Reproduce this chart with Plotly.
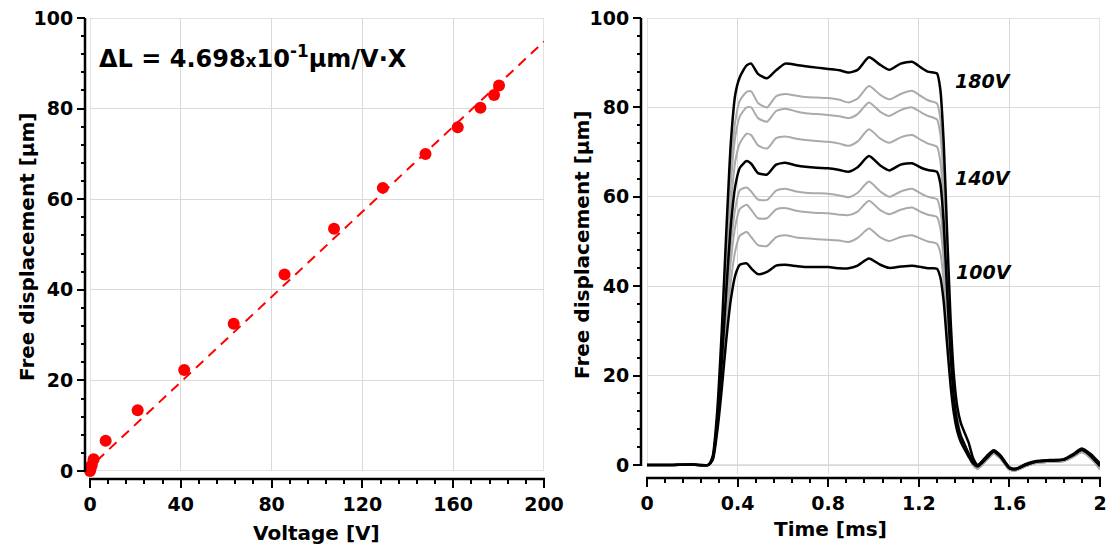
import plotly.graph_objects as go

# ---------------- Left panel data ----------------
voltage = [0, 0.3, 0.8, 1.6, 6.9, 21.0, 41.5, 63.3, 85.7, 107.5, 129.0, 147.8, 162.0, 172.0, 178.0, 180.2]
displacement = [0.0, 0.6, 1.3, 2.6, 6.7, 13.4, 22.3, 32.5, 43.4, 53.5, 62.5, 70.0, 75.9, 80.2, 83.0, 85.1]
fit_slope = 0.4698
fit_intercept = 0.85
fit_x = [3, 200]

# ---------------- Right panel data ----------------
time_ms = [0, 0.10, 0.20, 0.27, 0.29, 0.31, 0.33, 0.35, 0.37, 0.39, 0.41, 0.44, 0.46, 0.49, 0.53,
           0.57, 0.61, 0.66, 0.70, 0.75, 0.80, 0.85, 0.89, 0.93, 0.98, 1.03, 1.07, 1.12, 1.17, 1.21,
           1.24, 1.28, 1.295, 1.31, 1.325, 1.34, 1.355, 1.37, 1.385, 1.40, 1.42, 1.44, 1.46, 1.50,
           1.53, 1.56, 1.60, 1.63, 1.67, 1.72, 1.78, 1.84, 1.88, 1.92, 1.96, 2.00]

v100 = [0, 0, 0.1, 0, 1.1, 7.5, 17, 28, 37, 42.5, 44.8, 45.1, 44.0, 42.7, 43.2,
        44.6, 44.8, 44.5, 44.3, 44.3, 44.3, 44.0, 44.0, 44.6, 46.2, 44.8, 44.1, 44.4, 44.6, 44.3,
        44.0, 43.9, 42, 36.5, 27, 18, 11.5, 7.5, 5.2, 3.7, 1.9, 0.3, -0.3, 1.6,
        3.0, 1.9, -0.7, -0.9, 0, 0.8, 1.0, 1.2, 2.2, 3.4, 2.0, -0.2]
v110 = [0, 0, 0.1, 0, 1.2, 8, 18.5, 30.5, 41, 48, 51.3, 52.1, 51.0, 49.2, 49.0,
        51.0, 51.4, 50.9, 50.7, 50.5, 50.4, 50.2, 49.9, 50.8, 52.9, 50.9, 50.1, 51.0, 51.4, 50.6,
        50.0, 49.5, 47.5, 41, 30, 19.5, 12.3, 7.8, 5.4, 3.8, 1.8, 0, -0.8, 1.2,
        2.6, 1.5, -1, -1.2, -0.3, 0.5, 0.7, 0.9, 1.8, 2.9, 1.5, -0.9]
v120 = [0, 0, 0.1, 0, 1.3, 8.5, 20, 33.5, 45.5, 53.5, 57.3, 58.2, 57.1, 55.2, 55.2,
        57.2, 57.5, 56.9, 56.6, 56.4, 56.3, 56.0, 55.9, 56.7, 59.1, 57.0, 56.1, 57.1, 57.6, 56.6,
        56.0, 55.5, 53, 45.5, 33, 21.5, 13.3, 8.4, 5.8, 4.0, 1.9, 0, -0.8, 1.2,
        2.6, 1.5, -1, -1.2, -0.3, 0.5, 0.7, 0.9, 1.8, 2.9, 1.5, -0.9]
v130 = [0, 0, 0.1, 0, 1.4, 9, 21, 36, 49, 57.5, 61.5, 62.1, 61.2, 59.4, 59.3,
        61.4, 61.8, 61.2, 60.9, 60.8, 60.7, 60.3, 59.9, 60.9, 63.4, 61.2, 60.0, 61.2, 61.8, 60.7,
        60.0, 59.5, 57, 49, 35.5, 23, 14, 8.8, 6.0, 4.2, 2.0, 0, -0.8, 1.2,
        2.6, 1.5, -1, -1.2, -0.3, 0.5, 0.7, 0.9, 1.8, 2.9, 1.5, -0.9]
v140 = [0, 0, 0.1, 0, 1.5, 9.5, 23, 39, 53.5, 62.5, 66.5, 68.0, 67.4, 65.3, 65.0,
        67.2, 67.6, 67.0, 66.7, 66.5, 66.4, 66.0, 65.6, 66.6, 69.1, 67.0, 65.9, 67.2, 67.5, 66.5,
        66.0, 65.6, 63, 54, 39, 25, 15, 9.5, 6.5, 4.8, 2.6, 0.6, -0.3, 1.6,
        3.0, 1.9, -0.7, -0.9, 0, 0.8, 1.0, 1.2, 2.2, 3.4, 2.0, -0.2]
v150 = [0, 0, 0.1, 0, 1.6, 10, 24.5, 42, 58, 68, 72, 74.1, 73.8, 71.5, 70.8,
        73.1, 73.5, 73.0, 72.7, 72.5, 72.3, 71.9, 71.4, 72.4, 75.1, 73.0, 72.1, 73.3, 73.8, 72.7,
        71.9, 71.2, 68, 58, 41.5, 26, 15.5, 9.5, 6.5, 4.5, 2.2, 0, -0.8, 1.2,
        2.6, 1.5, -1, -1.2, -0.3, 0.5, 0.7, 0.9, 1.8, 2.9, 1.5, -0.9]
v160 = [0, 0, 0.1, 0, 1.7, 10.5, 26.5, 46, 63, 73.5, 78, 80.0, 80.0, 77.6, 76.8,
        79.2, 79.7, 79.1, 78.7, 78.5, 78.3, 78.0, 77.6, 78.5, 81.1, 79.0, 78.1, 79.4, 80.0, 78.9,
        78.1, 77.3, 74, 63, 45, 28, 16.5, 10, 6.8, 4.8, 2.3, 0, -0.8, 1.2,
        2.6, 1.5, -1, -1.2, -0.3, 0.5, 0.7, 0.9, 1.8, 2.9, 1.5, -0.9]
v170 = [0, 0, 0.1, 0, 1.8, 11, 28, 48, 66, 77, 81.5, 83.5, 83.6, 81.0, 80.0,
        82.5, 83.0, 82.6, 82.3, 82.2, 82.1, 81.7, 81.1, 82.0, 84.8, 82.8, 81.8, 83.0, 83.7, 82.5,
        81.6, 80.9, 77.5, 66, 47, 29, 17, 10.5, 7.0, 5.0, 2.5, 0, -0.8, 1.2,
        2.7, 1.6, -1, -1.2, -0.3, 0.5, 0.7, 0.9, 1.8, 3.0, 1.6, -0.8]
v180 = [0, 0, 0.1, 0, 2, 12, 30, 52, 72, 83, 86.8, 89.4, 89.8, 87.5, 86.5,
        88.3, 89.8, 89.5, 89.2, 88.9, 88.6, 88.3, 87.8, 88.4, 91.2, 89.5, 88.4, 89.8, 90.2, 88.9,
        88.0, 87.6, 84, 72, 52, 33, 20, 13, 9.5, 7.5, 5.0, 1.5, 0, 2.0,
        3.3, 2.2, -0.5, -0.8, 0.2, 0.9, 1.1, 1.3, 2.4, 3.7, 2.4, 0.3]

gray_series = [v110, v120, v130, v150, v160, v170]
black_series = [v100, v140, v180]
curve_labels = ["180V", "140V", "100V"]
label_pos_t = [1.485, 1.485, 1.49]
label_pos_v = [86.0, 64.3, 43.2]

FONT = "DejaVu Sans"
GRID = "#d9d9d9"
W, H = 1113, 553


def px_x(p):
    return p / W


def px_y(p):
    return 1 - p / H


fig = go.Figure()

# Left: fit line and measured points
fit_y = [fit_slope * x + fit_intercept for x in fit_x]
fig.add_trace(go.Scatter(x=fit_x, y=fit_y, mode="lines",
                         line=dict(color="#ff0000", width=2, dash="10px,7px"),
                         xaxis="x", yaxis="y", showlegend=False, hoverinfo="skip"))
fig.add_trace(go.Scatter(x=voltage, y=displacement, mode="markers",
                         marker=dict(color="#ff0000", size=12),
                         xaxis="x", yaxis="y", showlegend=False, cliponaxis=False))

# Right: time traces
for s in gray_series:
    fig.add_trace(go.Scatter(x=time_ms, y=s, mode="lines",
                             line=dict(color="#aaaaaa", width=2, shape="spline", smoothing=0.6),
                             xaxis="x2", yaxis="y2", showlegend=False))
for s in black_series:
    fig.add_trace(go.Scatter(x=time_ms, y=s, mode="lines",
                             line=dict(color="#000000", width=2.5, shape="spline", smoothing=0.6),
                             xaxis="x2", yaxis="y2", showlegend=False))

tickfont = dict(family=FONT, size=19, color="black", weight="bold")
common_axis = dict(showline=False, ticks="outside",
                   ticklen=8, tickwidth=2, tickcolor="black", showgrid=True,
                   gridcolor=GRID, gridwidth=1, zeroline=False, tickfont=tickfont,
                   automargin=False)


def minor(d):
    return dict(dtick=d, tick0=0, ticks="outside", ticklen=4, tickwidth=1.5,
                tickcolor="black", showgrid=False)


# right panel: 0 at px 465, 100 at px 18; range extends a little below zero
r_ymin = -2.0
r_bottom_px = 465 + (0 - r_ymin) * (465 - 18) / 100.0

fig.update_layout(
    width=W, height=H,
    margin=dict(l=0, r=0, t=0, b=0),
    paper_bgcolor="white", plot_bgcolor="white",
    xaxis=dict(domain=[px_x(90), px_x(544)], range=[0, 200], tickvals=[0, 40, 80, 120, 160, 200],
               anchor="free", position=px_y(479), minor=minor(8), **common_axis),
    yaxis=dict(domain=[px_y(471), px_y(18)], range=[0, 100], tickvals=[0, 20, 40, 60, 80, 100],
               anchor="free", position=px_x(85), minor=minor(4), **common_axis),
    xaxis2=dict(domain=[px_x(647), px_x(1100)], range=[0, 2], tickvals=[0, 0.4, 0.8, 1.2, 1.6, 2],
                ticktext=["0", "0.4", "0.8", "1.2", "1.6", "2"],
                anchor="free", position=px_y(478), minor=minor(0.08), **common_axis),
    yaxis2=dict(domain=[px_y(r_bottom_px), px_y(18)], range=[r_ymin, 100],
                tickvals=[0, 20, 40, 60, 80, 100],
                anchor="free", position=px_x(641), minor=minor(4), **common_axis),
)

# Plot-area frames (light gray)
fig.add_shape(type="rect", xref="x", yref="y", x0=0, x1=200, y0=0, y1=100,
              line=dict(color=GRID, width=1.5), layer="below")
fig.add_shape(type="rect", xref="x2", yref="y2", x0=0, x1=2, y0=0, y1=100,
              line=dict(color=GRID, width=1.5), layer="below")

# Black axis lines (offset from the plot areas)
axis_line = dict(color="black", width=2.5)
fig.add_shape(type="line", xref="paper", yref="paper", x0=px_x(85), x1=px_x(85),
              y0=px_y(472), y1=px_y(18), line=axis_line)
fig.add_shape(type="line", xref="paper", yref="paper", x0=px_x(89), x1=px_x(545),
              y0=px_y(479), y1=px_y(479), line=axis_line)
fig.add_shape(type="line", xref="paper", yref="paper", x0=px_x(641), x1=px_x(641),
              y0=px_y(466), y1=px_y(18), line=axis_line)
fig.add_shape(type="line", xref="paper", yref="paper", x0=px_x(646), x1=px_x(1101),
              y0=px_y(478), y1=px_y(478), line=axis_line)

title_font = dict(family=FONT, size=20, color="black", weight="bold")
annotations = [
    dict(text="Free displacement [µm]", x=px_x(27), y=px_y(247), xref="paper", yref="paper",
         textangle=-90, showarrow=False, font=title_font, xanchor="center", yanchor="middle"),
    dict(text="Free displacement [µm]", x=px_x(582), y=px_y(245), xref="paper", yref="paper",
         textangle=-90, showarrow=False, font=title_font, xanchor="center", yanchor="middle"),
    dict(text="Voltage [V]", x=px_x(316), y=px_y(533), xref="paper", yref="paper",
         showarrow=False, font=title_font, xanchor="center", yanchor="middle"),
    dict(text="Time [ms]", x=px_x(830), y=px_y(529), xref="paper", yref="paper",
         showarrow=False, font=title_font, xanchor="center", yanchor="middle"),
    dict(text="ΔL = 4.698<span style='font-size:17px'>x</span>10<sup>-1</sup>µm/V·X",
         x=px_x(97), y=px_y(57), xref="paper", yref="paper", showarrow=False,
         font=dict(family=FONT, size=24, color="black", weight="bold"),
         xanchor="left", yanchor="middle"),
]
for lbl, t, v in zip(curve_labels, label_pos_t, label_pos_v):
    annotations.append(dict(text=lbl, x=t, y=v, xref="x2", yref="y2", showarrow=False,
                            font=dict(family=FONT, size=19, color="black", weight="bold",
                                      style="italic"),
                            xanchor="center", yanchor="middle"))
fig.update_layout(annotations=annotations)

fig.write_html("out.html")
